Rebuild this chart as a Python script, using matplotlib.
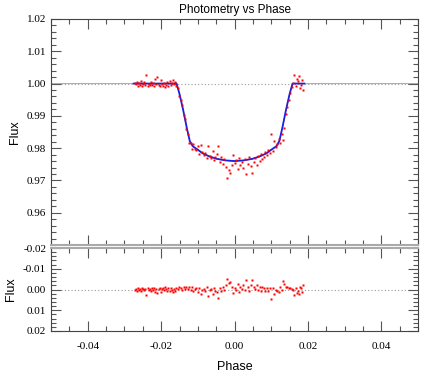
import matplotlib.pyplot as plt
import numpy as np
from matplotlib.ticker import MultipleLocator, FormatStrFormatter, FixedLocator

# phase of each observation
phase = np.array([
    -0.0272, -0.0269, -0.0266, -0.0263, -0.0261, -0.0258, -0.0255, -0.0252, -0.0249, -0.0246,
    -0.0243, -0.0240, -0.0237, -0.0234, -0.0231, -0.0228, -0.0225, -0.0222, -0.0219, -0.0216,
    -0.0213, -0.0210, -0.0207, -0.0204, -0.0201, -0.0198, -0.0195, -0.0192, -0.0189, -0.0186,
    -0.0183, -0.0180, -0.0177, -0.0174, -0.0171, -0.0168, -0.0165, -0.0162,
    -0.0159, -0.0155, -0.0151, -0.0147, -0.0143, -0.0139, -0.0135, -0.0131, -0.0127, -0.0123,
    -0.0119, -0.0115,
    -0.0112, -0.0108, -0.0104, -0.0100, -0.0096, -0.0092, -0.0088, -0.0084, -0.0080, -0.0076,
    -0.0072, -0.0068, -0.0064, -0.0060, -0.0056, -0.0052, -0.0048, -0.0044, -0.0040, -0.0036,
    -0.0032, -0.0028, -0.0024, -0.0020, -0.0016, -0.0012, -0.0008, -0.0004, 0.0000, 0.0004,
    0.0008, 0.0012, 0.0016, 0.0020, 0.0024, 0.0028, 0.0032, 0.0036, 0.0040, 0.0044,
    0.0048, 0.0052, 0.0056, 0.0060, 0.0064, 0.0068, 0.0072, 0.0076, 0.0080, 0.0084,
    0.0088, 0.0092, 0.0096, 0.0100, 0.0104, 0.0108, 0.0112,
    0.0116, 0.0120, 0.0124, 0.0128, 0.0132, 0.0136, 0.0140, 0.0144, 0.0148, 0.0152, 0.0156,
    0.0160, 0.0163, 0.0166, 0.0169, 0.0172, 0.0175, 0.0178, 0.0181, 0.0184, 0.0187,
])

flux = np.array([
    1.0002, 0.9998, 1.0005, 0.9994, 1.0001, 0.9997, 1.0008, 0.9993, 0.9999, 1.0004,
    0.9996, 1.0025, 0.9992, 1.0000, 0.9997, 1.0006, 0.9995, 1.0003, 0.9991, 1.0014,
    0.9998, 1.0019, 0.9996, 0.9993, 1.0010, 0.9999, 0.9994, 1.0003, 0.9989, 0.9997,
    1.0005, 0.9992, 1.0008, 0.9995, 1.0002, 1.0011, 0.9998, 1.0006,
    0.9992, 0.9985, 0.9962, 0.9948, 0.9935, 0.9902, 0.9889, 0.9858, 0.9845, 0.9815,
    0.9817, 0.9798,
    0.9812, 0.9798, 0.9794, 0.9807, 0.9783, 0.9810, 0.9789, 0.9778, 0.9786, 0.9768,
    0.9808, 0.9776, 0.9770, 0.9791, 0.9762, 0.9774, 0.9781, 0.9806, 0.9758, 0.9771,
    0.9750, 0.9765, 0.9742, 0.9709, 0.9731, 0.9722, 0.9748, 0.9778, 0.9755, 0.9762,
    0.9735, 0.9770, 0.9748, 0.9758, 0.9739, 0.9766, 0.9719, 0.9751, 0.9772, 0.9744,
    0.9722, 0.9757, 0.9768, 0.9748, 0.9776, 0.9760, 0.9783, 0.9766, 0.9772, 0.9789,
    0.9779, 0.9795, 0.9785, 0.9843, 0.9790, 0.9822, 0.9805,
    0.9812, 0.9828, 0.9815, 0.9845, 0.9825, 0.9862, 0.9905, 0.9928, 0.9950, 0.9972, 0.9990,
    1.0003, 1.0025, 0.9993, 1.0015, 1.0008, 1.0022, 0.9986, 0.9995, 1.0011, 0.9979,
])

resid = np.array([
    0.0002, -0.0002, 0.0005, -0.0006, 0.0001, -0.0003, 0.0008, -0.0007, -0.0001, 0.0004,
    -0.0004, 0.0025, -0.0008, 0.0000, -0.0003, 0.0006, -0.0005, 0.0003, -0.0009, 0.0014,
    -0.0002, 0.0019, -0.0004, -0.0007, 0.0010, -0.0001, -0.0006, 0.0003, -0.0011, -0.0003,
    0.0005, -0.0008, 0.0008, -0.0005, 0.0002, 0.0011, -0.0002, 0.0006,
    -0.0008, -0.0003, -0.0010, -0.0005, 0.0002, -0.0010, -0.0001, -0.0010, -0.0002, -0.0012,
    0.0001, -0.0010,
    0.0007, -0.0004, -0.0005, 0.0012, -0.0009, 0.0022, 0.0004, -0.0004, 0.0006, -0.0010,
    0.0032, 0.0002, -0.0003, 0.0020, -0.0008, 0.0006, 0.0014, 0.0040, -0.0007, 0.0007,
    -0.0013, 0.0003, -0.0020, -0.0052, -0.0030, -0.0038, -0.0012, 0.0018, -0.0005, 0.0002,
    -0.0025, 0.0010, -0.0013, -0.0003, -0.0023, 0.0004, -0.0044, -0.0013, 0.0007, -0.0022,
    -0.0045, -0.0011, -0.0002, -0.0023, 0.0003, -0.0014, 0.0007, -0.0012, -0.0008, 0.0007,
    -0.0006, 0.0007, -0.0007, 0.0048, -0.0009, 0.0020, 0.0000,
    0.0005, 0.0014, -0.0012, 0.0000, -0.0043, -0.0028, -0.0013, -0.0012, -0.0008, -0.0006, -0.0002,
    0.0003, 0.0025, -0.0007, 0.0015, 0.0008, 0.0022, -0.0014, -0.0005, 0.0011, -0.0021,
])

# model curve nodes
model_phase = np.array([-0.05, -0.0275, -0.0158, -0.0150, -0.0140, -0.0130, -0.0122, -0.0114,
                        -0.0100, -0.0087, -0.0070, -0.0049, -0.0025, 0.0, 0.0025, 0.0049,
                        0.0070, 0.0087, 0.0100, 0.0114, 0.0122, 0.0130, 0.0140, 0.0150,
                        0.0158, 0.019, 0.05])
model_flux = np.array([1.0, 1.0, 1.0, 0.9968, 0.9918, 0.9862, 0.9822, 0.9806,
                       0.9795, 0.9784, 0.9775, 0.9767, 0.9762, 0.9760, 0.9762, 0.9767,
                       0.9775, 0.9784, 0.9795, 0.9806, 0.9822, 0.9862, 0.9918, 0.9968,
                       1.0, 1.0, 1.0])

top_ticks = [0.96, 0.97, 0.98, 0.99, 1.00, 1.01, 1.02]

fig = plt.figure(figsize=(4.36, 3.86), dpi=100)
ax1 = fig.add_axes([0.117, 0.3653, 0.842, 0.5855])
ax2 = fig.add_axes([0.117, 0.1425, 0.842, 0.2150])

# top panel
ax1.axhline(1.0, color='#999999', lw=0.8, ls=(0, (1, 2)), zorder=1)
ax1.plot(model_phase, model_flux, color='#9aa2ee', lw=0.7, zorder=2)
inside = (model_phase >= -0.0275) & (model_phase <= 0.019)
ax1.plot(model_phase[inside], model_flux[inside], color='#1a22e0', lw=1.3, zorder=3)
ax1.plot(phase, flux, 's', color='red', ms=1.6, mec='none', zorder=4)
ax1.set_xlim(-0.05, 0.05)
ax1.set_ylim(0.95, 1.02)
ax1.yaxis.set_major_locator(FixedLocator(top_ticks))
ax1.yaxis.set_minor_locator(MultipleLocator(0.002))
ax1.yaxis.set_major_formatter(FormatStrFormatter('%.2f'))
ax1.set_ylabel('Flux', fontsize=9, family='Liberation Sans', labelpad=4)
ax1.set_title('Photometry vs Phase', fontsize=8.5, family='Liberation Sans', pad=4)
ax1.tick_params(labelbottom=False)

# bottom panel
ax2.axhline(0.0, color='#999999', lw=0.8, ls=(0, (1, 2)), zorder=1)
ax2.plot(phase, resid, 's', color='red', ms=1.6, mec='none', zorder=4)
ax2.set_xlim(-0.05, 0.05)
ax2.set_ylim(0.02, -0.02)
ax2.yaxis.set_major_locator(MultipleLocator(0.01))
ax2.yaxis.set_minor_locator(MultipleLocator(0.002))
ax2.yaxis.set_major_formatter(FormatStrFormatter('%.2f'))
ax2.set_ylabel('Flux', fontsize=9, family='Liberation Sans', labelpad=4)
ax2.set_xlabel('Phase', fontsize=9, family='Liberation Sans', labelpad=7)

for ax in (ax1, ax2):
    ax.xaxis.set_major_locator(MultipleLocator(0.02))
    ax.xaxis.set_minor_locator(MultipleLocator(0.005))
    ax.xaxis.set_major_formatter(FormatStrFormatter('%.2f'))
    ax.tick_params(which='both', direction='in', top=True, right=True,
                   color='#555555', width=0.8)
    ax.tick_params(which='major', length=7)
    ax.tick_params(which='minor', length=3.5)
    ax.tick_params(axis='x', pad=8)
    for lab in ax.get_xticklabels() + ax.get_yticklabels():
        lab.set_fontfamily('Liberation Serif')
        lab.set_fontsize(8)
    for sp in ax.spines.values():
        sp.set_color('#444444')
        sp.set_linewidth(0.8)

ax1.spines['bottom'].set_color('#aaaaaa')
ax1.spines['bottom'].set_linewidth(1.5)
ax2.spines['top'].set_color('#aaaaaa')
ax2.spines['top'].set_linewidth(1.5)

fig.savefig('out.png', dpi=100)
